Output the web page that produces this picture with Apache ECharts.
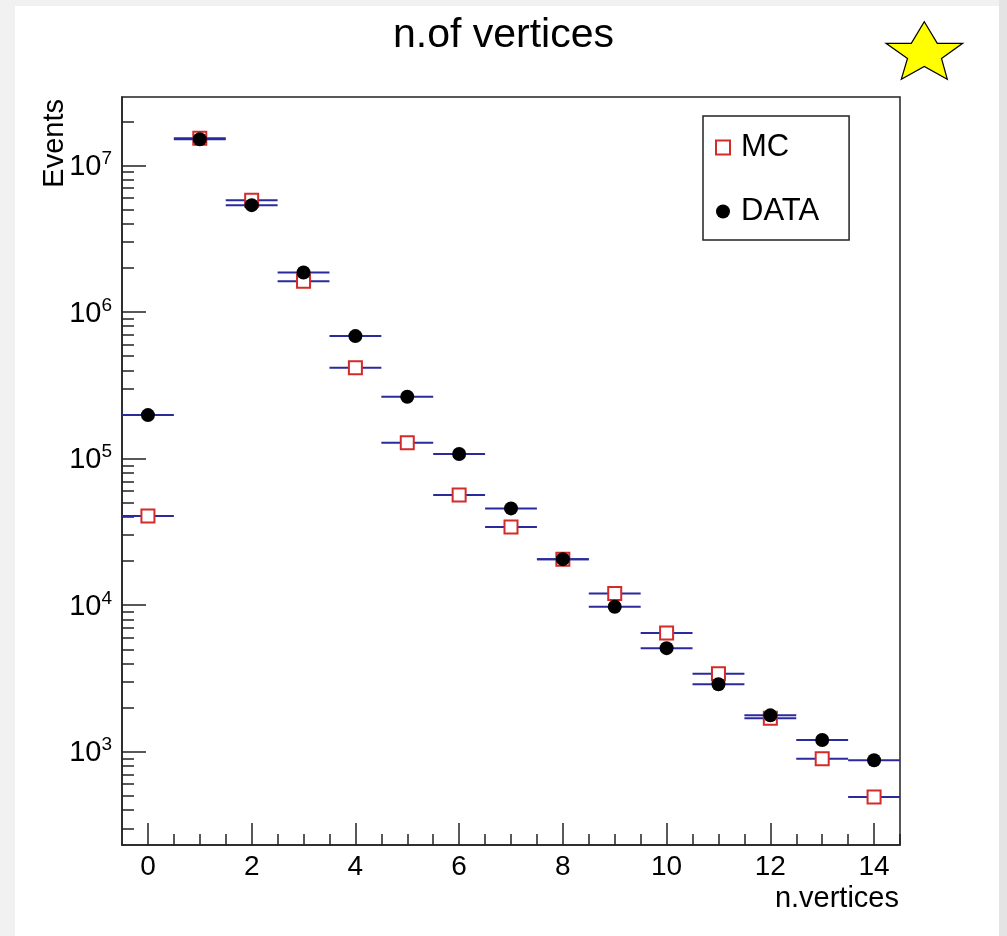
<!DOCTYPE html>
<html>
<head>
<meta charset="utf-8">
<script src="https://cdn.jsdelivr.net/npm/echarts@6/dist/echarts.min.js"></script>
<style>
  html, body { margin: 0; padding: 0; background: #f1f1f1; }
  #chart { width: 1007px; height: 936px; }
</style>
</head>
<body>
<div id="chart"></div>
<script>
// ---- data ----
const vertices   = [0, 1, 2, 3, 4, 5, 6, 7, 8, 9, 10, 11, 12, 13, 14];
const mcEvents   = [40550, 15350000, 5790000, 1620000, 416000, 128000, 56400, 34100, 20600, 12000, 6460, 3405, 1690, 896, 491];
const dataEvents = [198000, 15100000, 5360000, 1860000, 685000, 264000, 107400, 45700, 20600, 9750, 5090, 2885, 1771, 1202, 874];
const xTickLabels = [0, 2, 4, 6, 8, 10, 12, 14];
const yTickLabels = [1e3, 1e4, 1e5, 1e6, 1e7];
const binWidth = 1;

// ---- axis helpers ----
const X_MIN = -0.5, X_MAX = 14.5;
const Y_MIN = 231, Y_MAX = 2.93e7;
const xMinorTicks = [];
for (let v = 0; v <= 14.5; v += 0.5) xMinorTicks.push(v);
const yMinorTicks = [];
for (let d = 100; d <= 1e7; d *= 10) {
  for (let k = 1; k <= 9; k++) {
    const v = d * k;
    if (v >= Y_MIN && v <= Y_MAX) yMinorTicks.push(v);
  }
}

const FONT = 'Liberation Sans, Helvetica, Arial, sans-serif';
const AXIS_COLOR = '#222';
const ERR_COLOR = '#2a2a9c';

function errBars(values) {
  return vertices.map((x, i) => [x, values[i]]);
}
function renderErr(params, api) {
  const x = api.value(0), y = api.value(1);
  const p1 = api.coord([x - binWidth / 2, y]);
  const p2 = api.coord([x + binWidth / 2, y]);
  return {
    type: 'line',
    shape: { x1: p1[0], y1: p1[1], x2: p2[0], y2: p2[1] },
    style: { stroke: ERR_COLOR, lineWidth: 2 }
  };
}

// star decoration outline (pixel outline of the ornament)
const starOutline = [
  [924.3, 21.7], [937.3, 43.3], [962.7, 43.3], [941.5, 58.5], [947.3, 79.3],
  [924.3, 66.5], [901.3, 79.3], [907.5, 58.5], [886.0, 43.3], [911.3, 43.3]
];

const chart = echarts.init(document.getElementById('chart'), null, { renderer: 'canvas' });

const gridRect = { left: 122, top: 97, right: 107, bottom: 91 };

const option = {
  backgroundColor: '#f1f1f1',
  animation: false,
  title: {
    text: 'n.of vertices',
    left: 'center',
    top: 15,
    padding: 0,
    textStyle: { fontFamily: FONT, fontSize: 41, fontWeight: 'normal', color: '#000' }
  },
  legend: {
    data: ['MC', 'DATA'],
    orient: 'vertical',
    left: 703,
    top: 116,
    padding: [16, 30, 13, 12],
    itemGap: 33,
    itemWidth: 14,
    itemHeight: 14,
    backgroundColor: '#fff',
    borderColor: '#222',
    borderWidth: 1.5,
    borderRadius: 0,
    textStyle: { fontFamily: FONT, fontSize: 31, color: '#000', lineHeight: 30, padding: [0, 0, 0, 6] }
  },
  grid: [
    Object.assign({ show: true, borderColor: AXIS_COLOR, borderWidth: 1.5, backgroundColor: '#fff', containLabel: false }, gridRect),
    Object.assign({ show: false, containLabel: false }, gridRect)
  ],
  xAxis: [
    {
      type: 'value', gridIndex: 0, min: X_MIN, max: X_MAX, position: 'bottom',
      axisLine: { show: true, onZero: false, lineStyle: { color: AXIS_COLOR, width: 1.5 } },
      axisTick: { show: true, inside: true, length: 22, customValues: xTickLabels, lineStyle: { color: AXIS_COLOR, width: 1.5 } },
      axisLabel: { show: true, customValues: xTickLabels, margin: 8, fontFamily: FONT, fontSize: 28, color: '#000' },
      splitLine: { show: false }
    },
    {
      type: 'value', gridIndex: 1, min: X_MIN, max: X_MAX, position: 'bottom',
      axisLine: { show: false, onZero: false },
      axisTick: { show: true, inside: true, length: 11, customValues: xMinorTicks, lineStyle: { color: AXIS_COLOR, width: 1.5 } },
      axisLabel: { show: false },
      splitLine: { show: false }
    }
  ],
  yAxis: [
    {
      type: 'log', logBase: 10, gridIndex: 0, min: Y_MIN, max: Y_MAX, position: 'left',
      axisLine: { show: true, onZero: false, lineStyle: { color: AXIS_COLOR, width: 1.5 } },
      axisTick: { show: true, inside: true, length: 24, customValues: yTickLabels, lineStyle: { color: AXIS_COLOR, width: 1.5 } },
      axisLabel: {
        show: true, customValues: yTickLabels, margin: 10, fontSize: 29,
        formatter: function (v) {
          const e = Math.round(Math.log10(v));
          return '{b|10}{s|' + e + '}';
        },
        rich: {
          b: { fontFamily: FONT, fontSize: 29, color: '#000', lineHeight: 32, verticalAlign: 'bottom' },
          s: { fontFamily: FONT, fontSize: 19, color: '#000', lineHeight: 32, verticalAlign: 'top' }
        }
      },
      splitLine: { show: false }
    },
    {
      type: 'log', logBase: 10, gridIndex: 1, min: Y_MIN, max: Y_MAX, position: 'left',
      axisLine: { show: false, onZero: false },
      axisTick: { show: true, inside: true, length: 12, customValues: yMinorTicks, lineStyle: { color: AXIS_COLOR, width: 1.5 } },
      axisLabel: { show: false },
      splitLine: { show: false }
    }
  ],
  graphic: [
    { type: 'rect', z: -10, silent: true, shape: { x: 15, y: 6, width: 984, height: 930 }, style: { fill: '#fff' } },
    { type: 'rect', z: -10, silent: true, shape: { x: 999, y: 0, width: 8, height: 936 }, style: { fill: '#e4e4e4' } },
    {
      type: 'polygon', z: 10, silent: true,
      shape: { points: starOutline },
      style: { fill: '#ffff00', stroke: '#000', lineWidth: 1.2 }
    },
    {
      type: 'text', z: 10, x: 55, y: 99, rotation: Math.PI / 2,
      style: { text: 'Events', font: '29px ' + FONT, fill: '#000', textAlign: 'right', textVerticalAlign: 'middle' }
    },
    {
      type: 'text', z: 10, x: 899, y: 899,
      style: { text: 'n.vertices', font: '29px ' + FONT, fill: '#000', textAlign: 'right', textVerticalAlign: 'middle' }
    }
  ],
  series: [
    {
      name: 'MC err', type: 'custom', xAxisIndex: 0, yAxisIndex: 0, z: 1, clip: true,
      renderItem: renderErr, data: errBars(mcEvents)
    },
    {
      name: 'MC', type: 'scatter', xAxisIndex: 0, yAxisIndex: 0, z: 2,
      symbol: 'rect', symbolSize: 13,
      itemStyle: { color: '#fff', borderColor: '#d42a2a', borderWidth: 2, opacity: 1 },
      data: vertices.map((x, i) => [x, mcEvents[i]])
    },
    {
      name: 'DATA err', type: 'custom', xAxisIndex: 0, yAxisIndex: 0, z: 3, clip: true,
      renderItem: renderErr, data: errBars(dataEvents)
    },
    {
      name: 'DATA', type: 'scatter', xAxisIndex: 0, yAxisIndex: 0, z: 4,
      symbol: 'circle', symbolSize: 14,
      itemStyle: { color: '#000', opacity: 1 },
      data: vertices.map((x, i) => [x, dataEvents[i]])
    }
  ]
};

chart.setOption(option);
</script>
</body>
</html>
